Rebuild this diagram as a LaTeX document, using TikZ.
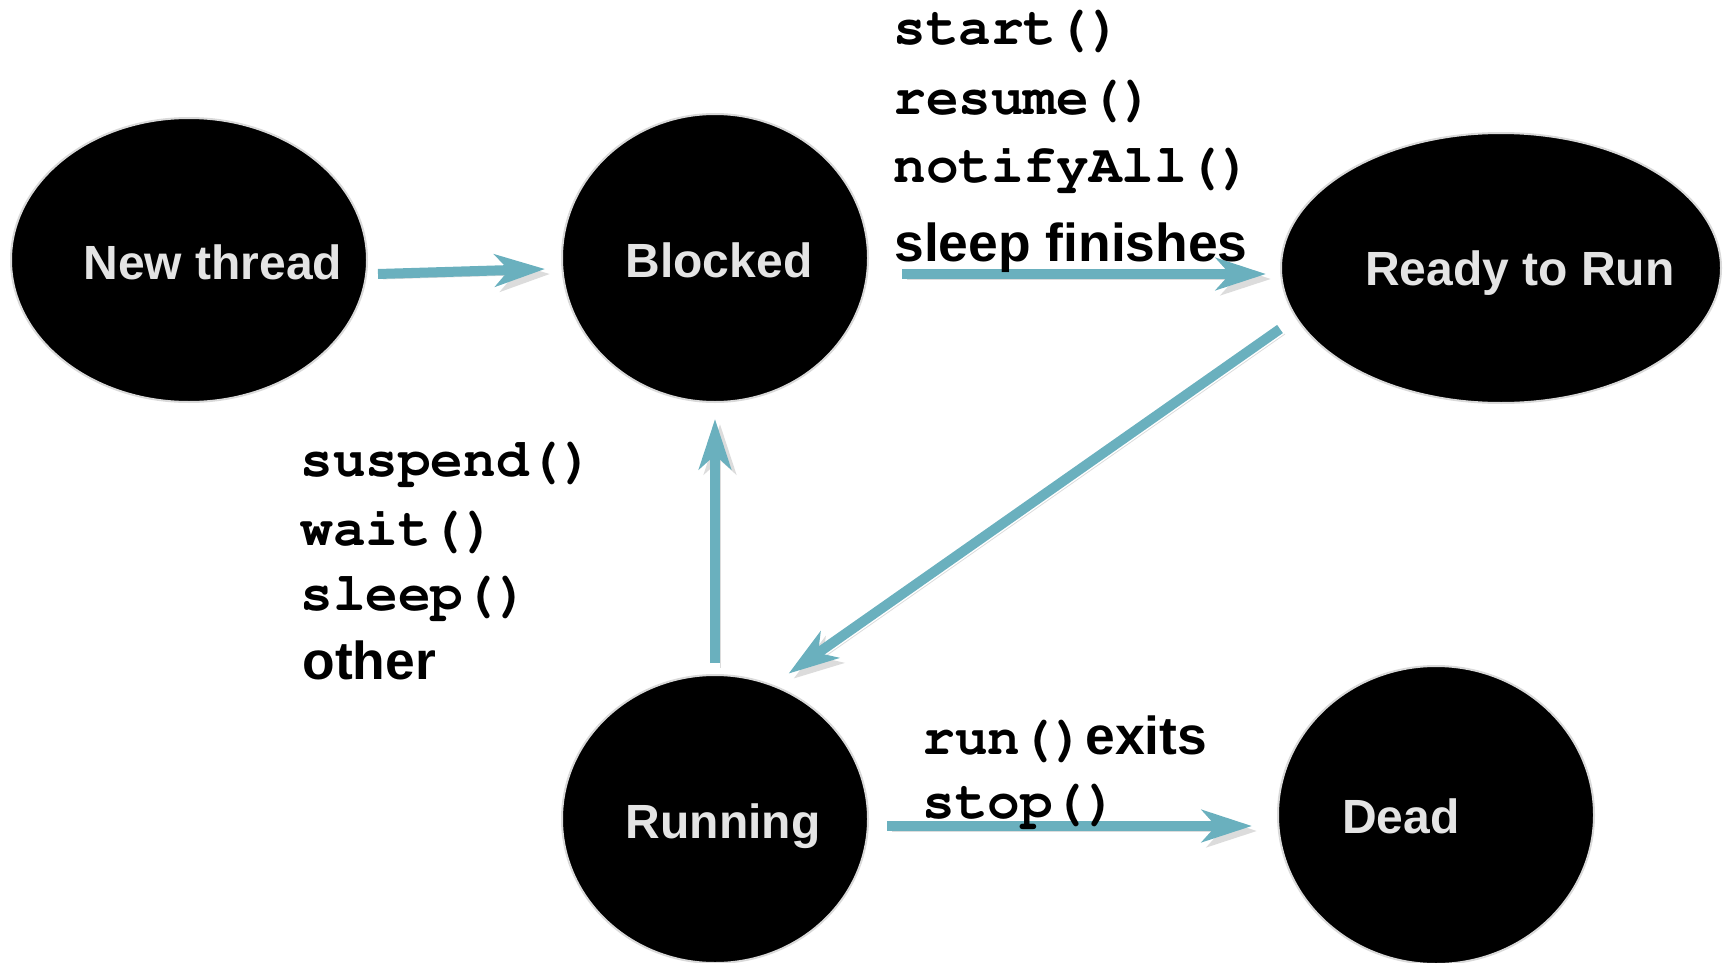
\documentclass[tikz,border=0pt]{standalone}
\usepackage{fontspec}
\setmainfont{Liberation Sans}
\setmonofont{Liberation Mono}
\usetikzlibrary{arrows.meta,positioning,shapes.geometric}

\definecolor{flowteal}{HTML}{6AB0BE}
\definecolor{shadowgrey}{HTML}{DCDCDC}
\definecolor{labelgrey}{HTML}{E4E4E4}

% bold Courier for the method names
\newcommand{\codefont}{\fontencoding{OT1}\fontfamily{pcr}\fontseries{b}\selectfont}

\begin{document}
\begin{tikzpicture}[
    x=0.5pt, y=-0.5pt,
    state/.style={ellipse, fill=black, draw=black!15, line width=1pt,
      inner sep=0pt},
    statetext/.style={font=\fontsize{24}{28}\selectfont\bfseries,
      text=labelgrey},
    flow/.style={line width=5pt, draw=flowteal,
      -{Stealth[length=25pt, width=16pt, inset=7pt]},
      preaction={draw=shadowgrey,
        transform canvas={xshift=2.5pt, yshift=-2.5pt}}},
    code/.style={font=\fontsize{27.2}{30}\codefont,
      anchor=base west, inner sep=0pt},
    plain/.style={font=\fontsize{26.7}{30}\selectfont\bfseries,
      anchor=base west, inner sep=0pt}
  ]
    \useasboundingbox (0,0) rectangle (1723,963);

    % -- States ------------------------------------------------
    \node[state, minimum width=178pt, minimum height=142pt,
      label={[statetext, xshift=12pt, yshift=-1pt]center:New thread}]
      (newthread) at (189,260) {};
    \node[state, minimum width=153pt, minimum height=144pt,
      label={[statetext, xshift=2pt, yshift=-1pt]center:Blocked}]
      (blocked) at (715,258) {};
    \node[state, minimum width=220pt, minimum height=135pt,
      label={[statetext, xshift=9.5pt, yshift=-2.7pt]center:Ready to Run}]
      (ready) at (1501,268) {};
    \node[state, minimum width=153pt, minimum height=144pt,
      label={[statetext, xshift=4pt, yshift=-3.7pt]center:Running}]
      (running) at (715,819) {};
    \node[state, minimum width=158pt, minimum height=149pt,
      label={[statetext, xshift=-17.5pt, yshift=-0.5pt]center:Dead}]
      (dead) at (1436,815) {};

    % -- Transitions -------------------------------------------
    \draw[flow] ([shift={(5pt,-7pt)}]newthread.east)
      -- ([shift={(-8pt,-5.5pt)}]blocked.west);
    \draw[flow] ([shift={(16.5pt,-8pt)}]blocked.east)
      -- ([shift={(-7pt,-3pt)}]ready.west);
    \draw[flow] ([yshift=-30.5pt]ready.west)
      -- ([yshift=9pt]running.60);
    \draw[flow] ([yshift=5.5pt]running.north)
      -- ([yshift=-8pt]blocked.south);
    \draw[flow] ([shift={(9pt,-3.5pt)}]running.east)
      -- ([shift={(-12.5pt,-5.5pt)}]dead.west);

    % -- Labels: Blocked -> Ready to Run -----------------------
    \node[code]  (lstart)  at (893,45)  {start()};
    \node[code]  (lresume) at (893,114) {resume()};
    \node[code]  (lnotify) at (893,183) {notifyAll()};
    \node[plain] (lsleepf) at (894,261) {sleep finishes};

    % -- Labels: Running -> Blocked ----------------------------
    \node[code]  (lsuspend) at (300,476) {suspend()};
    \node[code]  (lwait)    at (300,545) {wait()};
    \node[code]  (lsleep)   at (300,610) {sleep()};
    \node[plain] (lother)   at (302,679) {other};

    % -- Labels: Running -> Dead -------------------------------
    \node[code]  (lrun)  at (922,754)
      {run()\fontsize{26.7}{30}\fontencoding{TU}\fontfamily{\familydefault}\selectfont exits};
    \node[code]  (lstop) at (922,818) {stop()};
  \end{tikzpicture}
\end{document}
